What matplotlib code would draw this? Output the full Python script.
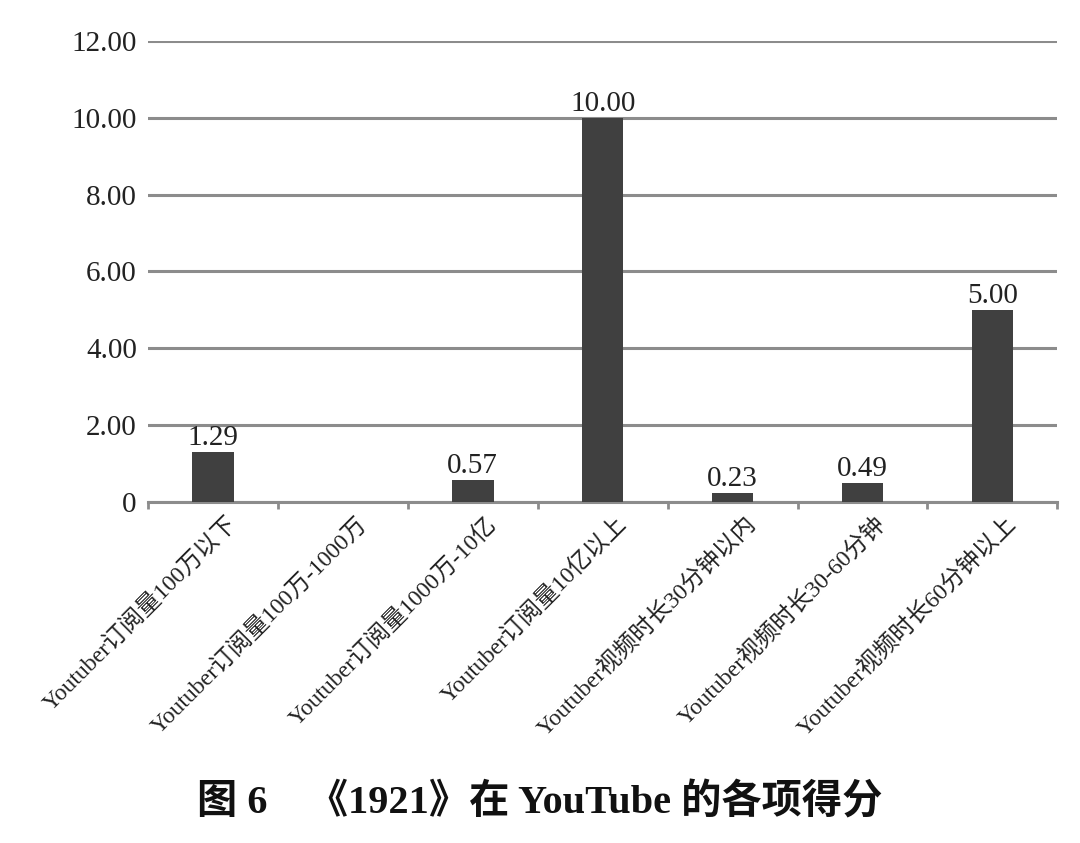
import matplotlib
matplotlib.use("Agg")
import matplotlib.pyplot as plt
import numpy as np

categories = ["Youtuber订阅量100万以下", "Youtuber订阅量100万-1000万",
              "Youtuber订阅量1000万-10亿", "Youtuber订阅量10亿以上",
              "Youtuber视频时长30分钟以内", "Youtuber视频时长30-60分钟",
              "Youtuber视频时长60分钟以上"]
values = [1.29, 0.0, 0.57, 10.00, 0.23, 0.49, 5.00]
labels = ["1.29", "", "0.57", "10.00", "0.23", "0.49", "5.00"]
yticks = [0, 2, 4, 6, 8, 10, 12]
ytick_labels = ["0", "2.00", "4.00", "6.00", "8.00", "10.00", "12.00"]
title = "图 6\u3000《1921》在 YouTube 的各项得分"

fam = ["Liberation Serif", "Noto Sans CJK SC"]

fig = plt.figure(figsize=(10.8, 8.43), dpi=100)
ax = fig.add_axes([0.137, 0.4045, 0.842, 0.547])

x = np.arange(len(categories))
ax.bar(x, values, width=0.32, color="#404040", zorder=3)
for xi, v, lab in zip(x, values, labels):
    if lab:
        ax.text(xi, v + 0.03, lab, ha="center", va="bottom", fontsize=21,
                family=fam, color="#222222")

ax.set_xlim(-0.5, len(categories) - 0.5)
ax.set_ylim(0, 12)
ax.set_yticks(yticks)
ax.set_yticklabels(ytick_labels, family=fam, fontsize=21, color="#222222")
ax.yaxis.grid(True, color="#8c8c8c", linewidth=2.2, zorder=0)
ax.tick_params(axis="y", length=0, pad=8)

ax.set_xticks(x + 0.1)
ax.set_xticklabels(categories, rotation=45, ha="right", rotation_mode="anchor",
                   family=fam, fontsize=17, color="#222222")
ax.set_xticks(np.arange(len(categories) + 1) - 0.5, minor=True)
ax.tick_params(axis="x", which="major", length=0, pad=8)
ax.tick_params(axis="x", which="minor", length=5, width=2, color="#8c8c8c")

for s in ["top", "right", "left"]:
    ax.spines[s].set_visible(False)
ax.spines["bottom"].set_color("#8c8c8c")
ax.spines["bottom"].set_linewidth(2.2)

fig.text(0.5, 0.048, title, ha="center", va="center", fontsize=29,
         fontweight="bold", family=fam, color="#111111")

fig.savefig("out.png", dpi=100)
